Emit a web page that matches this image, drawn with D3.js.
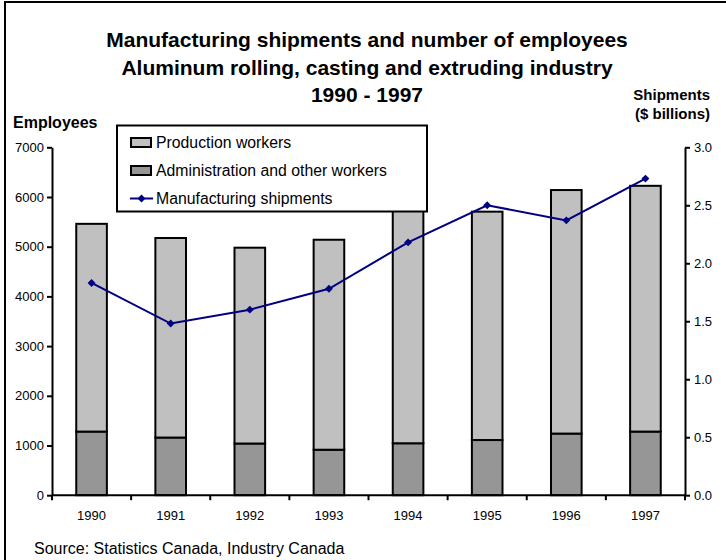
<!DOCTYPE html>
<html>
<head>
<meta charset="utf-8">
<script src="https://cdn.jsdelivr.net/npm/d3@7"></script>
<style>
  html, body { margin: 0; padding: 0; background: #fff; }
  svg { display: block; font-family: "Liberation Sans", Arial, sans-serif; }
</style>
</head>
<body>
<svg id="chart" width="726" height="560"></svg>
<script>
// Employees by year (stacked) and shipments in $ billions
const years = ["1990", "1991", "1992", "1993", "1994", "1995", "1996", "1997"];
const adminWorkers = [1280, 1160, 1040, 915, 1045, 1110, 1240, 1280];
const productionWorkers = [4180, 4015, 3940, 4225, 4855, 4595, 4900, 4945];
const shipments = [1.83, 1.48, 1.60, 1.78, 2.18, 2.50, 2.37, 2.73];

const leftTicks = [0, 1000, 2000, 3000, 4000, 5000, 6000, 7000];
const rightTicks = [0, 0.5, 1.0, 1.5, 2.0, 2.5, 3.0];

const titleLines = [
  "Manufacturing shipments and number of employees",
  "Aluminum rolling, casting and extruding industry",
  "1990 - 1997"
];

const COL_PROD = "#c0c0c0";
const COL_ADMIN = "#969696";
const COL_LINE = "#000080";

const svg = d3.select("#chart");

// outer frame
svg.append("rect")
  .attr("x", 5).attr("y", 2)
  .attr("width", 740).attr("height", 580)
  .attr("fill", "none").attr("stroke", "#000").attr("stroke-width", 2);

const plot = { left: 52, right: 685, top: 147.3, bottom: 495.2 };

const x = d3.scaleBand().domain(years).range([plot.left, plot.right]).paddingInner(0.613).paddingOuter(0.3065);
const xBoundary = d3.scaleBand().domain(years).range([plot.left, plot.right]);
const yLeft = d3.scaleLinear().domain([0, 7000]).range([plot.bottom, plot.top]);
const yRight = d3.scaleLinear().domain([0, 3]).range([plot.bottom, plot.top]);

// titles
const title = svg.append("text")
  .attr("text-anchor", "middle")
  .attr("font-size", 21).attr("font-weight", "bold").attr("fill", "#000");
const titleBase = [47.3, 75, 102];
titleLines.forEach((t, i) => {
  title.append("tspan").attr("x", 367).attr("y", titleBase[i]).text(t);
});

svg.append("text").attr("x", 13).attr("y", 128)
  .attr("font-size", 16).attr("font-weight", "bold").text("Employees");
svg.append("text").attr("x", 710).attr("y", 99.5).attr("text-anchor", "end")
  .attr("font-size", 15).attr("font-weight", "bold").text("Shipments");
svg.append("text").attr("x", 710).attr("y", 118.5).attr("text-anchor", "end")
  .attr("font-size", 15).attr("font-weight", "bold").text("($ billions)");

// stacked bars
const rows = years.map((y, i) => ({ year: y, admin: adminWorkers[i], production: productionWorkers[i] }));
const stack = d3.stack().keys(["admin", "production"])(rows);
const colors = { admin: COL_ADMIN, production: COL_PROD };

stack.forEach(layer => {
  svg.append("g").selectAll("rect").data(layer).join("rect")
    .attr("x", d => x(d.data.year))
    .attr("y", d => yLeft(d[1]))
    .attr("width", x.bandwidth())
    .attr("height", d => yLeft(d[0]) - yLeft(d[1]))
    .attr("fill", colors[layer.key])
    .attr("stroke", "#000").attr("stroke-width", 2);
});

// axes
const axisLeft = d3.axisLeft(yLeft).tickValues(leftTicks).tickFormat(d3.format("d")).tickSize(5).tickSizeOuter(0).tickPadding(3);
const gl = svg.append("g").attr("transform", `translate(${plot.left},0)`).call(axisLeft);

const axisRight = d3.axisRight(yRight).tickValues(rightTicks).tickFormat(d3.format(".1f")).tickSize(5).tickSizeOuter(0).tickPadding(4);
const gr = svg.append("g").attr("transform", `translate(${plot.right},0)`).call(axisRight);

[gl, gr].forEach(g => {
  g.select(".domain").attr("stroke", "#000").attr("stroke-width", 2);
  g.selectAll(".tick line").attr("stroke", "#000").attr("stroke-width", 2);
  g.selectAll(".tick text").attr("font-size", 13).attr("fill", "#000")
    .attr("font-family", "Liberation Sans, Arial, sans-serif");
});

// x axis line and boundary ticks
const gx = svg.append("g");
gx.append("line")
  .attr("x1", plot.left).attr("x2", plot.right)
  .attr("y1", plot.bottom).attr("y2", plot.bottom)
  .attr("stroke", "#000").attr("stroke-width", 2);
gx.selectAll("line.tick").data(years.concat(["end"])).join("line")
  .attr("class", "tick")
  .attr("x1", (d, i) => i < years.length ? xBoundary(d) : plot.right)
  .attr("x2", (d, i) => i < years.length ? xBoundary(d) : plot.right)
  .attr("y1", plot.bottom).attr("y2", plot.bottom + 5)
  .attr("stroke", "#000").attr("stroke-width", 2);
gx.selectAll("text").data(years).join("text")
  .attr("x", d => x(d) + x.bandwidth() / 2)
  .attr("y", 520)
  .attr("text-anchor", "middle")
  .attr("font-size", 13)
  .text(d => d);

// shipments line
const pts = years.map((y, i) => [x(y) + x.bandwidth() / 2, yRight(shipments[i])]);
svg.append("path")
  .attr("d", d3.line()(pts))
  .attr("fill", "none").attr("stroke", COL_LINE).attr("stroke-width", 2);
svg.append("g").selectAll("path").data(pts).join("path")
  .attr("d", d3.symbol(d3.symbolDiamond2, 40)())
  .attr("transform", d => `translate(${d[0]},${d[1]})`)
  .attr("fill", COL_LINE);

// legend
const lg = svg.append("g");
lg.append("rect").attr("x", 117).attr("y", 125.5).attr("width", 310).attr("height", 86)
  .attr("fill", "#fff").attr("stroke", "#000").attr("stroke-width", 2);
const legendItems = [
  { label: "Production workers", type: "box", color: COL_PROD },
  { label: "Administration and other workers", type: "box", color: COL_ADMIN },
  { label: "Manufacturing shipments", type: "line", color: COL_LINE }
];
legendItems.forEach((it, i) => {
  const cy = 142.5 + i * 28;
  if (it.type === "box") {
    lg.append("rect").attr("x", 131).attr("y", cy - 4.5).attr("width", 20).attr("height", 9)
      .attr("fill", it.color).attr("stroke", "#000").attr("stroke-width", 2);
  } else {
    lg.append("line").attr("x1", 130).attr("x2", 153).attr("y1", cy).attr("y2", cy)
      .attr("stroke", it.color).attr("stroke-width", 2);
    lg.append("path").attr("d", d3.symbol(d3.symbolDiamond2, 40)())
      .attr("transform", `translate(141.5,${cy})`).attr("fill", it.color);
  }
  lg.append("text").attr("x", 156).attr("y", cy + 5.5).attr("font-size", 15.8).text(it.label);
});

// source note
svg.append("text").attr("x", 34).attr("y", 554).attr("font-size", 16)
  .text("Source: Statistics Canada, Industry Canada");
</script>
</body>
</html>
